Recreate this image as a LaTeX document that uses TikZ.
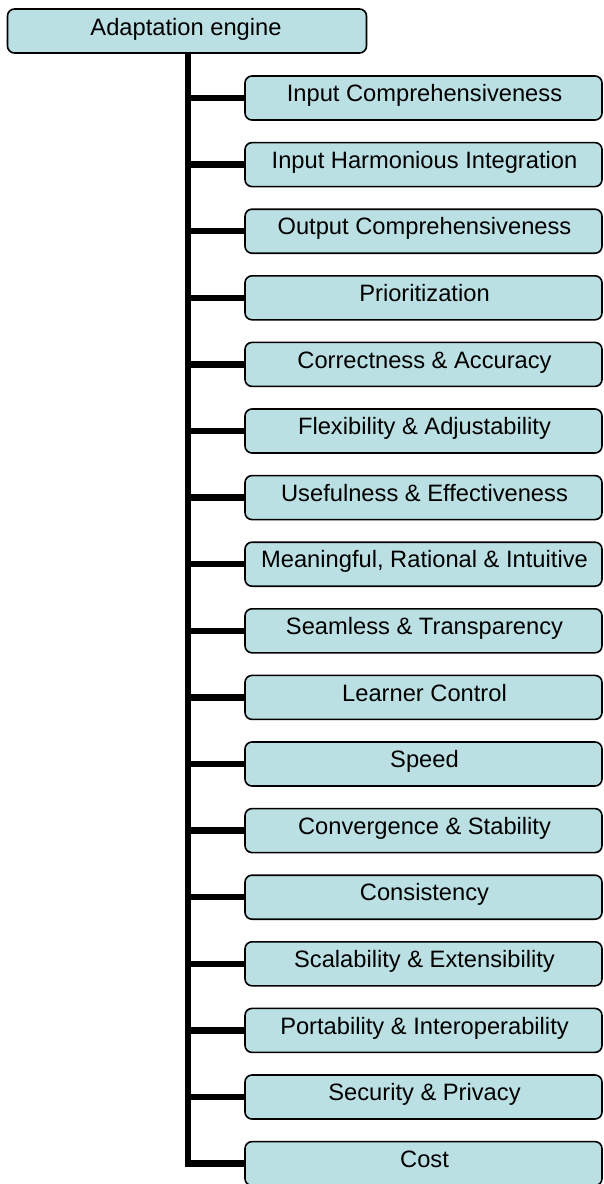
\documentclass[tikz,border=0pt]{standalone}
\usepackage{fontspec}
\setmainfont{Liberation Sans}
\definecolor{boxfill}{RGB}{187,224,227}
\begin{document}
\begin{tikzpicture}[x=1pt,y=-1pt,
  box/.style={draw=black,line width=1.6pt,fill=boxfill,rounded corners=7pt},
  lbl/.style={anchor=base,inner sep=0pt,font=\fontsize{23.7}{28}\selectfont},
  conn/.style={line width=6.5pt,line cap=butt}]
\useasboundingbox (0,0) rectangle (603,1184);
% root
\node[box,minimum width=359pt,minimum height=44pt,inner sep=0pt] (root) at (187,31) {};
\node[lbl] (rootl) at (186,35) {Adaptation engine};
\coordinate (trunk) at (187.8,53);
\foreach \t [count=\i from 0] in {Input Comprehensiveness,Input Harmonious Integration,Output Comprehensiveness,Prioritization,Correctness \& Accuracy,Flexibility \& Adjustability,Usefulness \& Effectiveness,{Meaningful, Rational \& Intuitive},Seamless \& Transparency,Learner Control,Speed,Convergence \& Stability,Consistency,Scalability \& Extensibility,Portability \& Interoperability,Security \& Privacy,Cost}{
  \pgfmathsetmacro{\cy}{98+66.6*\i}
  \node[box,minimum width=357pt,minimum height=44pt,inner sep=0pt] (c\i) at (423.5,\cy) {};
  \node[lbl] (l\i) at (424.5,\cy+3.6) {\t};
  \coordinate (j\i) at (187.8,\cy);
  \draw[conn] (j\i) -- (c\i.west);
}
\draw[conn] (trunk) -- ([yshift=-3.25pt]j16);
\end{tikzpicture}
\end{document}
